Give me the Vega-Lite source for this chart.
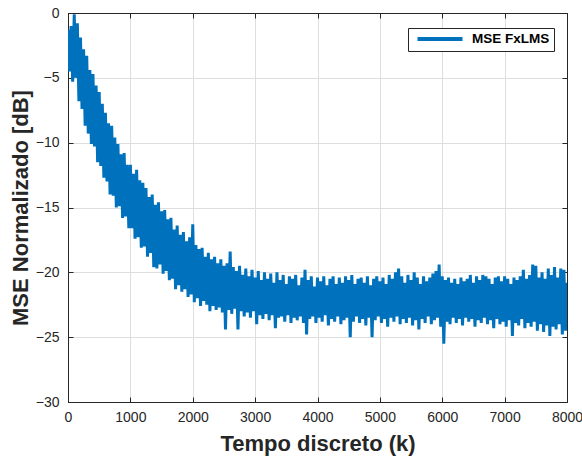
{
  "$schema": "https://vega.github.io/schema/vega-lite/v6.json",
  "width": 499,
  "height": 389,
  "autosize": {"type": "none"},
  "padding": {"left": 68, "top": 13, "right": 15, "bottom": 56},
  "background": "white",
  "config": {"view": {"stroke": "#262626", "strokeWidth": 1}, "font": "Liberation Sans"},
  "data": {"values": [
      {"k":0,"v":-1.3},{"k":50,"v":-1.0},{"k":100,"v":-0.1},{"k":150,"v":-0.8},{"k":200,"v":-1.9},{"k":250,"v":-2.8},{"k":300,"v":-3.3},{"k":350,"v":-4.4},{"k":400,"v":-4.7},{"k":450,"v":-5.6},
      {"k":500,"v":-6.1},{"k":550,"v":-7.0},{"k":600,"v":-7.7},{"k":650,"v":-8.5},{"k":700,"v":-8.7},{"k":750,"v":-9.6},{"k":800,"v":-10.1},{"k":850,"v":-10.9},{"k":900,"v":-10.8},{"k":950,"v":-11.7},
      {"k":1000,"v":-11.7},{"k":1050,"v":-12.4},{"k":1100,"v":-12.1},{"k":1150,"v":-12.9},{"k":1200,"v":-13.1},{"k":1250,"v":-13.5},{"k":1300,"v":-14.2},{"k":1350,"v":-14.0},{"k":1400,"v":-14.8},{"k":1450,"v":-14.6},
      {"k":1500,"v":-15.3},{"k":1550,"v":-15.2},{"k":1600,"v":-15.9},{"k":1650,"v":-15.8},{"k":1700,"v":-16.7},{"k":1750,"v":-16.4},{"k":1800,"v":-17.1},{"k":1850,"v":-16.9},{"k":1900,"v":-17.6},{"k":1950,"v":-17.3},
      {"k":2000,"v":-16.3},{"k":2050,"v":-17.9},{"k":2100,"v":-18.2},{"k":2150,"v":-18.1},{"k":2200,"v":-18.8},{"k":2250,"v":-18.5},{"k":2300,"v":-19.0},{"k":2350,"v":-18.8},{"k":2400,"v":-19.3},{"k":2450,"v":-19.0},
      {"k":2500,"v":-19.5},{"k":2550,"v":-19.3},{"k":2600,"v":-18.4},{"k":2650,"v":-19.6},{"k":2700,"v":-19.9},{"k":2750,"v":-19.5},{"k":2800,"v":-20.2},{"k":2850,"v":-19.7},{"k":2900,"v":-20.3},{"k":2950,"v":-19.8},
      {"k":3000,"v":-20.4},{"k":3050,"v":-19.9},{"k":3100,"v":-20.6},{"k":3150,"v":-20.0},{"k":3200,"v":-20.5},{"k":3250,"v":-20.1},{"k":3300,"v":-20.8},{"k":3350,"v":-20.0},{"k":3400,"v":-20.6},{"k":3450,"v":-20.2},
      {"k":3500,"v":-20.9},{"k":3550,"v":-20.3},{"k":3600,"v":-20.5},{"k":3650,"v":-20.2},{"k":3700,"v":-21.0},{"k":3750,"v":-20.4},{"k":3800,"v":-19.8},{"k":3850,"v":-20.6},{"k":3900,"v":-20.3},{"k":3950,"v":-21.1},
      {"k":4000,"v":-20.4},{"k":4050,"v":-20.7},{"k":4100,"v":-20.3},{"k":4150,"v":-21.0},{"k":4200,"v":-20.5},{"k":4250,"v":-20.3},{"k":4300,"v":-20.9},{"k":4350,"v":-20.4},{"k":4400,"v":-20.8},{"k":4450,"v":-20.3},
      {"k":4500,"v":-20.6},{"k":4550,"v":-20.2},{"k":4600,"v":-20.9},{"k":4650,"v":-20.5},{"k":4700,"v":-20.4},{"k":4750,"v":-20.8},{"k":4800,"v":-20.3},{"k":4850,"v":-21.0},{"k":4900,"v":-20.5},{"k":4950,"v":-20.3},
      {"k":5000,"v":-20.7},{"k":5050,"v":-20.4},{"k":5100,"v":-20.9},{"k":5150,"v":-20.2},{"k":5200,"v":-20.5},{"k":5250,"v":-20.0},{"k":5300,"v":-19.7},{"k":5350,"v":-20.3},{"k":5400,"v":-20.8},{"k":5450,"v":-20.2},
      {"k":5500,"v":-20.6},{"k":5550,"v":-20.0},{"k":5600,"v":-20.4},{"k":5650,"v":-20.9},{"k":5700,"v":-20.3},{"k":5750,"v":-20.7},{"k":5800,"v":-20.4},{"k":5850,"v":-20.1},{"k":5900,"v":-19.9},{"k":5950,"v":-19.4},
      {"k":6000,"v":-20.3},{"k":6050,"v":-20.6},{"k":6100,"v":-20.4},{"k":6150,"v":-20.8},{"k":6200,"v":-20.5},{"k":6250,"v":-20.9},{"k":6300,"v":-20.4},{"k":6350,"v":-20.7},{"k":6400,"v":-20.5},{"k":6450,"v":-20.2},
      {"k":6500,"v":-20.8},{"k":6550,"v":-20.3},{"k":6600,"v":-20.6},{"k":6650,"v":-20.2},{"k":6700,"v":-20.3},{"k":6750,"v":-20.5},{"k":6800,"v":-20.9},{"k":6850,"v":-20.4},{"k":6900,"v":-20.3},{"k":6950,"v":-20.7},
      {"k":7000,"v":-20.3},{"k":7050,"v":-20.5},{"k":7100,"v":-20.9},{"k":7150,"v":-20.4},{"k":7200,"v":-20.6},{"k":7250,"v":-20.3},{"k":7300,"v":-19.8},{"k":7350,"v":-20.5},{"k":7400,"v":-20.2},{"k":7450,"v":-19.4},
      {"k":7500,"v":-19.5},{"k":7550,"v":-20.4},{"k":7600,"v":-20.0},{"k":7650,"v":-20.5},{"k":7700,"v":-19.7},{"k":7750,"v":-20.2},{"k":7800,"v":-19.6},{"k":7850,"v":-20.4},{"k":7900,"v":-19.7},{"k":7950,"v":-19.8},
      {"k":8000,"v":-20.8},
      {"k":25,"v":-4.5},{"k":75,"v":-5.3},{"k":125,"v":-5.0},{"k":175,"v":-6.8},{"k":225,"v":-7.4},{"k":275,"v":-8.7},{"k":325,"v":-9.3},{"k":375,"v":-10.1},{"k":425,"v":-10.3},{"k":475,"v":-11.5},
      {"k":525,"v":-11.8},{"k":575,"v":-12.7},{"k":625,"v":-13.0},{"k":675,"v":-14.0},{"k":725,"v":-14.1},{"k":775,"v":-15.0},{"k":825,"v":-14.9},{"k":875,"v":-15.8},{"k":925,"v":-15.7},{"k":975,"v":-16.6},
      {"k":1025,"v":-16.6},{"k":1075,"v":-17.4},{"k":1125,"v":-17.3},{"k":1175,"v":-18.1},{"k":1225,"v":-18.0},{"k":1275,"v":-18.8},{"k":1325,"v":-18.5},{"k":1375,"v":-19.6},{"k":1425,"v":-19.7},{"k":1475,"v":-19.4},
      {"k":1525,"v":-20.1},{"k":1575,"v":-19.9},{"k":1625,"v":-20.6},{"k":1675,"v":-20.5},{"k":1725,"v":-21.3},{"k":1775,"v":-21.0},{"k":1825,"v":-21.5},{"k":1875,"v":-21.3},{"k":1925,"v":-21.9},{"k":1975,"v":-21.7},
      {"k":2025,"v":-22.3},{"k":2075,"v":-22.0},{"k":2125,"v":-22.6},{"k":2175,"v":-22.2},{"k":2225,"v":-22.5},{"k":2275,"v":-23.0},{"k":2325,"v":-22.6},{"k":2375,"v":-22.9},{"k":2425,"v":-22.7},{"k":2475,"v":-23.1},
      {"k":2525,"v":-24.4},{"k":2575,"v":-22.9},{"k":2625,"v":-23.2},{"k":2675,"v":-22.8},{"k":2725,"v":-24.4},{"k":2775,"v":-23.0},{"k":2825,"v":-23.4},{"k":2875,"v":-23.1},{"k":2925,"v":-23.5},{"k":2975,"v":-23.0},
      {"k":3025,"v":-24.0},{"k":3075,"v":-23.3},{"k":3125,"v":-23.6},{"k":3175,"v":-23.2},{"k":3225,"v":-23.7},{"k":3275,"v":-23.3},{"k":3325,"v":-24.3},{"k":3375,"v":-23.5},{"k":3425,"v":-23.4},{"k":3475,"v":-23.8},
      {"k":3525,"v":-23.3},{"k":3575,"v":-23.9},{"k":3625,"v":-23.5},{"k":3675,"v":-23.7},{"k":3725,"v":-23.4},{"k":3775,"v":-23.9},{"k":3825,"v":-24.8},{"k":3875,"v":-23.6},{"k":3925,"v":-23.4},{"k":3975,"v":-23.9},
      {"k":4025,"v":-23.5},{"k":4075,"v":-23.8},{"k":4125,"v":-23.3},{"k":4175,"v":-24.1},{"k":4225,"v":-23.6},{"k":4275,"v":-23.8},{"k":4325,"v":-23.4},{"k":4375,"v":-24.0},{"k":4425,"v":-23.7},{"k":4475,"v":-23.5},
      {"k":4525,"v":-25.0},{"k":4575,"v":-23.8},{"k":4625,"v":-23.4},{"k":4675,"v":-23.9},{"k":4725,"v":-23.6},{"k":4775,"v":-24.1},{"k":4825,"v":-23.5},{"k":4875,"v":-25.0},{"k":4925,"v":-23.7},{"k":4975,"v":-23.4},
      {"k":5025,"v":-23.9},{"k":5075,"v":-23.6},{"k":5125,"v":-24.2},{"k":5175,"v":-23.5},{"k":5225,"v":-23.8},{"k":5275,"v":-23.4},{"k":5325,"v":-24.0},{"k":5375,"v":-23.6},{"k":5425,"v":-23.9},{"k":5475,"v":-23.5},
      {"k":5525,"v":-24.1},{"k":5575,"v":-23.7},{"k":5625,"v":-24.4},{"k":5675,"v":-23.6},{"k":5725,"v":-23.9},{"k":5775,"v":-23.4},{"k":5825,"v":-24.0},{"k":5875,"v":-23.7},{"k":5925,"v":-23.5},{"k":5975,"v":-24.2},
      {"k":6025,"v":-25.5},{"k":6075,"v":-23.8},{"k":6125,"v":-24.0},{"k":6175,"v":-23.5},{"k":6225,"v":-23.9},{"k":6275,"v":-23.6},{"k":6325,"v":-24.1},{"k":6375,"v":-23.5},{"k":6425,"v":-23.8},{"k":6475,"v":-23.6},
      {"k":6525,"v":-24.2},{"k":6575,"v":-23.7},{"k":6625,"v":-23.9},{"k":6675,"v":-23.5},{"k":6725,"v":-24.0},{"k":6775,"v":-23.7},{"k":6825,"v":-24.3},{"k":6875,"v":-23.6},{"k":6925,"v":-24.0},{"k":6975,"v":-23.8},
      {"k":7025,"v":-24.2},{"k":7075,"v":-23.7},{"k":7125,"v":-24.9},{"k":7175,"v":-23.9},{"k":7225,"v":-24.1},{"k":7275,"v":-23.6},{"k":7325,"v":-24.3},{"k":7375,"v":-23.9},{"k":7425,"v":-24.2},{"k":7475,"v":-23.8},
      {"k":7525,"v":-24.5},{"k":7575,"v":-24.0},{"k":7625,"v":-24.6},{"k":7675,"v":-24.1},{"k":7725,"v":-24.9},{"k":7775,"v":-24.2},{"k":7825,"v":-24.4},{"k":7875,"v":-24.0},{"k":7925,"v":-24.8},{"k":7975,"v":-24.5}
  ]},
  "layer": [
    {
      "transform": [{"filter": "datum.k < 0"}],
      "mark": {"type": "line", "opacity": 0},
      "encoding": {
        "x": {"field": "k", "type": "quantitative", "scale": {"domain": [0, 8000], "nice": false},
          "axis": {"orient": "top", "values": [0,1000,2000,3000,4000,5000,6000,7000,8000], "labels": false, "grid": false, "title": null, "tickSize": -5, "tickColor": "#262626", "domainColor": "#262626"}},
        "y": {"field": "v", "type": "quantitative", "scale": {"domain": [-30, 0], "nice": false},
          "axis": {"orient": "right", "values": [-30,-25,-20,-15,-10,-5,0], "labels": false, "grid": false, "title": null, "tickSize": -5, "tickColor": "#262626", "domainColor": "#262626"}}
      }
    },
    {
      "mark": {"type": "line", "strokeWidth": 3, "clip": true},
      "encoding": {
        "x": {"field": "k", "type": "quantitative", "scale": {"domain": [0, 8000], "nice": false},
          "axis": {"orient": "bottom", "values": [0,1000,2000,3000,4000,5000,6000,7000,8000], "format": "d", "title": "Tempo discreto (k)", "titleFontSize": 22, "titleFontWeight": "bold", "titleColor": "#262626", "titlePadding": 9,
            "labelFontSize": 14, "labelColor": "#262626", "labelPadding": 13, "labelFlush": false, "labelOverlap": false, "tickSize": -5, "tickColor": "#262626", "domainColor": "#262626", "gridColor": "#dedede", "grid": true}},
        "y": {"field": "v", "type": "quantitative", "scale": {"domain": [-30, 0], "nice": false},
          "axis": {"orient": "left", "values": [-30,-25,-20,-15,-10,-5,0], "format": "d", "title": "MSE Normalizado [dB]", "titleFontSize": 22, "titleFontWeight": "bold", "titleColor": "#262626", "titlePadding": 3,
            "labelFontSize": 14, "labelColor": "#262626", "labelPadding": 14, "labelFlush": false, "labelOverlap": false, "tickSize": -5, "tickColor": "#262626", "domainColor": "#262626", "gridColor": "#dedede", "grid": true}},
        "color": {"datum": "MSE FxLMS", "type": "nominal", "scale": {"range": ["#0072BD"]},
          "legend": {"orient": "none", "legendX": 340, "legendY": 15, "title": null, "symbolType": "M-4.5,0L4.5,0", "symbolSize": 100, "symbolStrokeWidth": 4, "symbolStrokeColor": "#0072BD", "symbolOffset": 21, "labelOffset": 25,
            "labelFontSize": 13.5, "labelFontWeight": "bold", "labelColor": "#000000", "strokeColor": "#262626", "fillColor": "white", "padding": 4, "cornerRadius": 0}}
      }
    }
  ],
  "resolve": {"axis": {"x": "independent", "y": "independent"}}
}
